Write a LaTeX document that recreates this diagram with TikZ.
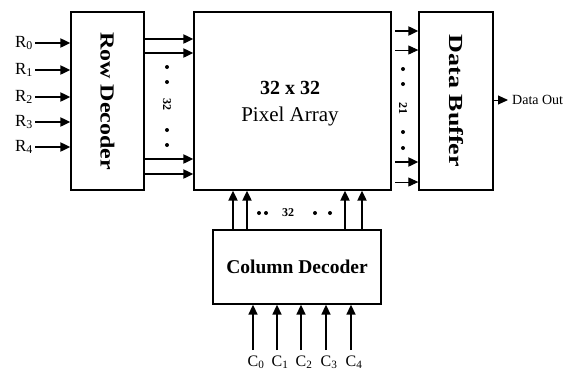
\documentclass[tikz,border=0pt]{standalone}
\usepackage{fontspec}
\setmainfont{Liberation Serif}
\usetikzlibrary{arrows.meta}
\begin{document}
\begin{tikzpicture}[x=1pt,y=-1pt,
  box/.style={draw,line width=1.3pt,minimum width=#1,inner sep=0pt},
  arr/.style={line width=2pt,-{Triangle[length=10pt,width=9pt]}},
  tarr/.style={line width=1pt,-{Triangle[length=10pt,width=9pt]}},
  dot/.style={circle,fill,inner sep=0pt,minimum size=4pt},
  lab/.style={font=\fontsize{17}{17}\selectfont,inner sep=0pt},
  small/.style={font=\bfseries\fontsize{12}{12}\selectfont,inner sep=0pt}]
\useasboundingbox (0,0) rectangle (571,373);
% boxes
\node[box=73pt,minimum height=178pt] (row) at (107.5,101) {};
\node[box=197pt,minimum height=178pt] (pix) at (292.5,101) {};
\node[box=74pt,minimum height=178pt] (buf) at (456,101) {};
\node[box=168pt,minimum height=74pt] (col) at (297,267) {};
% box texts
\node[rotate=-90,font=\bfseries\fontsize{20}{20}\selectfont] (rowt) at (row.center) {\scalebox{1.2}[1]{Row Decoder}};
\node[rotate=-90,font=\bfseries\fontsize{20}{20}\selectfont] (buft) at (buf.center) {\scalebox{1.3}[1]{Data Buffer}};
\node[font=\bfseries\fontsize{20}{20}\selectfont] (pixa) at (290,88) {32 x 32};
\node[font=\fontsize{21}{21}\selectfont] (pixb) at (290,116) {Pixel Array};
\node[font=\bfseries\fontsize{19.5}{19.5}\selectfont] (colt) at (col.center) {Column Decoder};
% row inputs
\foreach \i/\y in {0/43,1/70,2/97,3/122,4/147}{
  \node[lab,anchor=east] (R\i) at (33,\y) {R\textsubscript{\i}};
  \coordinate (r\i) at (35,\y);
  \draw[arr] (r\i) -- (row.west |- r\i);
}
% row outputs
\foreach \y in {39,53,159,174}{
  \coordinate (ro\y) at (0,\y);
  \draw[arr] (row.east |- ro\y) -- (pix.west |- ro\y);
}
\foreach \y in {67,82,130,145}{\node[dot] (rd\y) at (167,\y) {};}
\node[small,rotate=-90] (r32) at (167,104) {32};
% pixel outputs
\coordinate (po1) at (395,31);
\coordinate (po2) at (395,50);
\coordinate (po3) at (395,162);
\coordinate (po4) at (395,182);
\draw[arr] (po1) -- (buf.west |- po1);
\draw[tarr] (po2) -- (buf.west |- po2);
\draw[arr] (po3) -- (buf.west |- po3);
\draw[tarr] (po4) -- (buf.west |- po4);
\foreach \y in {69,84,132,148}{\node[dot] (pd\y) at (403,\y) {};}
\node[small,rotate=-90] (p21) at (403,108) {21};
% data out
\node[font=\fontsize{14}{14}\selectfont,anchor=west,inner sep=0pt] (dout) at (512,100) {Data Out};
\coordinate (dtip) at (508,100);
\draw[tarr] (buf.east |- dout) -- (dtip);
% column outputs
\foreach \x in {233,247,345,362}{
  \coordinate (co\x) at (\x,0);
  \draw[arr] (col.north -| co\x) -- (pix.south -| co\x);
}
\foreach \x in {259,266,315,330}{\node[dot] (cd\x) at (\x,213) {};}
\node[small] (c32) at (288,213) {32};
% column inputs
\foreach \i/\x in {0/253,1/277,2/301,3/326,4/351}{
  \node[font=\fontsize{16}{16}\selectfont,inner sep=0pt,anchor=base] (C\i) at (\x+3,366) {C\textsubscript{\i}};
  \coordinate (ci\i) at (\x,350);
  \draw[arr,line width=1.6pt] (ci\i) -- (col.south -| ci\i);
}
\end{tikzpicture}
\end{document}
